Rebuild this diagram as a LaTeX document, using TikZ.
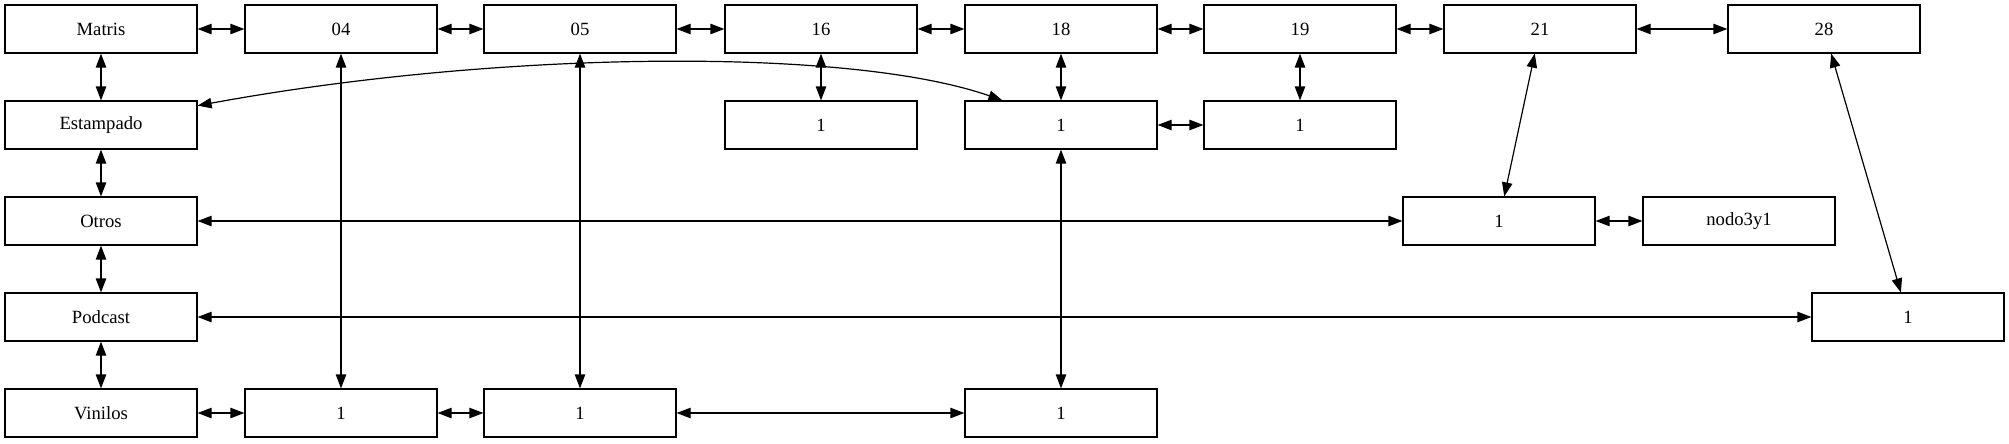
\documentclass[tikz,border=0pt]{standalone}
\usepackage{fontspec}
\setmainfont{Liberation Serif}
\usetikzlibrary{arrows.meta}
\tikzset{
  box/.style={draw, rectangle, line width=0.9pt, minimum width=144pt, minimum height=36pt,
    inner sep=0pt, font=\fontsize{14}{16}\selectfont},
  bi/.style={line width=0.9pt, arrows={Triangle[length=10.5pt,width=7.8pt]-Triangle[length=10.5pt,width=7.8pt]}}
}
\begin{document}
\begin{tikzpicture}[x=0.75pt,y=-0.75pt]
\useasboundingbox (0,0) rectangle (2009,443);
% row 1
\node[box] (m)   at (101,29)  {Matris};
\node[box] (a04) at (341,29)  {04};
\node[box] (a05) at (580,29)  {05};
\node[box] (a16) at (821,29)  {16};
\node[box] (a18) at (1061,29) {18};
\node[box] (a19) at (1300,29) {19};
\node[box] (a21) at (1540,29) {21};
\node[box] (a28) at (1824,29) {28};
% row 2
\node[box] (e)   at (101,125)  {Estampado};
\node[box] (b16) at (821,125)  {1};
\node[box] (b18) at (1061,125) {1};
\node[box] (b19) at (1300,125) {1};
% row 3
\node[box] (o)    at (101,221)  {Otros};
\node[box] (c21)  at (1499,221) {1};
\node[box] (nodo) at (1739,221) {nodo3y1};
% row 4
\node[box] (p)   at (101,317)  {Podcast};
\node[box] (d28) at (1908,317) {1};
% row 5
\node[box] (v)   at (101,413)  {Vinilos};
\node[box] (v04) at (341,413)  {1};
\node[box] (v05) at (580,413)  {1};
\node[box] (v18) at (1061,413) {1};
% row 1 horizontal
\draw[bi] (m) -- (a04);
\draw[bi] (a04) -- (a05);
\draw[bi] (a05) -- (a16);
\draw[bi] (a16) -- (a18);
\draw[bi] (a18) -- (a19);
\draw[bi] (a19) -- (a21);
\draw[bi] (a21) -- (a28);
% left column
\draw[bi] (m) -- (e);
\draw[bi] (e) -- (o);
\draw[bi] (o) -- (p);
\draw[bi] (p) -- (v);
% row 2 links
\draw[bi] (a16) -- (b16);
\draw[bi] (a18) -- (b18);
\draw[bi] (a19) -- (b19);
\draw[bi] (b18) -- (b19);
% curve
\draw[bi] ([yshift=14.5pt]e.east) .. controls (500,50) and (850,47) .. ([xshift=28.5pt]b18.north west);
% long verticals
\draw[bi] (a04) -- (v04);
\draw[bi] (a05) -- (v05);
\draw[bi] (b18) -- (v18);
% slanted
\draw[bi] (a21) -- (c21);
\draw[bi] (a28) -- (d28);
% long horizontals
\draw[bi] (o) -- (c21);
\draw[bi] (c21) -- (nodo);
\draw[bi] (p) -- (d28);
% row 5
\draw[bi] (v) -- (v04);
\draw[bi] (v04) -- (v05);
\draw[bi] (v05) -- (v18);
\end{tikzpicture}
\end{document}
